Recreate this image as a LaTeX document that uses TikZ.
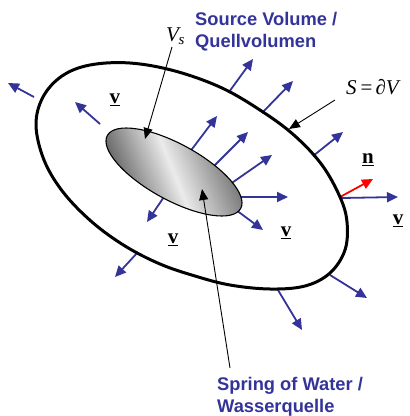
\documentclass[tikz,border=0pt]{standalone}
\usepackage{fontspec}
\setmainfont{Liberation Serif}
\newfontfamily\lsans{Liberation Sans}
\usetikzlibrary{arrows.meta,shapes.geometric}
\definecolor{vblue}{RGB}{51,51,153}
\tikzset{
  blue arrow/.style={draw=vblue, line width=1.8pt, -{Triangle[length=11pt,width=10pt]}, fill=vblue},
  red arrow/.style={draw=red, line width=1.8pt, -{Triangle[length=11pt,width=10pt]}, fill=red},
  pointer/.style={draw=black, line width=0.9pt, -{Triangle[length=11pt,width=9pt]}},
  bluelabel/.style={inner sep=0pt, anchor=base west, text=vblue, font=\lsans\bfseries\fontsize{18.3}{22}\selectfont},
  vec/.style={inner sep=0pt, font=\bfseries\fontsize{21}{22}\selectfont},
  math label/.style={inner sep=0pt, anchor=base west, font=\fontsize{21}{22}\selectfont},
  springshape/.style={ellipse, draw=black, line width=1.1pt, inner sep=0pt,
    minimum width=152pt, minimum height=56pt, rotate=-28.7},
}
\begin{document}
\begin{tikzpicture}[x=1pt,y=-1pt]
\useasboundingbox (0,0) rectangle (410,416);

% arrows leaving the spring (drawn behind it)
\coordinate (b1s) at (186,157); \coordinate (b1e) at (217,116);
\coordinate (b2s) at (208,172); \coordinate (b2e) at (248,132);
\coordinate (b3s) at (226,187); \coordinate (b3e) at (272,155);
\coordinate (b4s) at (234,197); \coordinate (b4e) at (288,197);
\coordinate (b5s) at (232,207); \coordinate (b5e) at (263,230);
\coordinate (b6s) at (170,188); \coordinate (b6e) at (147,222);
\foreach \i in {1,...,6} {\draw[blue arrow] (b\i s) -- (b\i e);}

% spring of water: gradient built from thin strips
\coordinate (sc) at (174,172);
\begin{scope}
  \clip[rotate around={-28.7:(sc)}] (sc) ellipse [x radius=76, y radius=28];
  \begin{scope}[shift={(sc)}, rotate=22]
    \foreach \x in {-56,-54,...,56} {
      \pgfmathsetmacro{\t}{\x/54}
      \pgfmathsetmacro{\p}{\t<0 ? min(60,8+52*abs(\t)) : min(52,8+44*\t)}
      \fill[black!\p] (\x-1.3,-70) rectangle (\x+1.3,70);
    }
  \end{scope}
\end{scope}
\node[springshape] (spring) at (sc) {};

% arrows in the volume and outside
\coordinate (a1s) at (34,97);   \coordinate (a1e) at (8,83);
\coordinate (a2s) at (100,124); \coordinate (a2e) at (75,102);
\coordinate (a3s) at (229,92);  \coordinate (a3e) at (253,59);
\coordinate (a4s) at (262,113); \coordinate (a4e) at (293,81);
\coordinate (a5s) at (313,156); \coordinate (a5e) at (343,132);
\coordinate (c1s) at (330,275); \coordinate (c1e) at (367,298);
\coordinate (c2s) at (278,290); \coordinate (c2e) at (302,330);
\coordinate (c3s) at (138,252); \coordinate (c3e) at (115,277);
\coordinate (vs) at (342,198);  \coordinate (ve) at (398,197);
\coordinate (ns) at (340,197);  \coordinate (ne) at (373,179);
\foreach \p in {a1,a2,a3,a4,a5,c1,c2,c3} {\draw[blue arrow] (\p s) -- (\p e);}
\draw[blue arrow] (vs) -- (ve);
\draw[red arrow] (ns) -- (ne);

% boundary surface S
\draw[line width=3pt, line join=round] plot[smooth cycle, tension=0.6] coordinates {
  (36,125) (43,97) (62,76) (90,65) (130,63) (175,71) (222,88) (263,112)
  (295,136) (322,165) (340,197) (347,222) (345,250) (330,273) (305,286)
  (270,289) (230,285) (195,276) (160,264) (125,246) (92,222) (63,192) (44,160)};

% labels
\node[bluelabel] (src1) at (195,25) {Source Volume /};
\node[bluelabel] (src2) at (195,47) {Quellvolumen};
\node[bluelabel] (spr1) at (217,390) {Spring of Water /};
\node[bluelabel] (spr2) at (217,412) {Wasserquelle};

\node[math label] (Vs) at (166,41) {\itshape V\kern-0.5pt\raisebox{-3pt}{\fontsize{15}{15}\selectfont s}};
\node[math label] (S) at (346,94) {\itshape S\upshape\hspace{4pt}=\hspace{3pt}∂\itshape V};

\node[vec] (v1) at (115,100) {\underline{v}};
\node[vec] (v2) at (173,240) {\underline{v}};
\node[vec] (v3) at (286,233) {\underline{v}};
\node[vec] (v4) at (398,221) {\underline{v}};
\node[vec] (n) at (368,160) {\underline{n}};

% pointers
\coordinate (p1s) at (172,47);  \coordinate (p1e) at (145,139);
\coordinate (p2s) at (335,100); \coordinate (p2e) at (289,129);
\coordinate (p3s) at (230,368); \coordinate (p3e) at (202,189);
\draw[pointer] (p1s) -- (p1e);
\draw[pointer] (p2s) -- (p2e);
\draw[pointer] (p3s) -- (p3e);
\end{tikzpicture}
\end{document}
